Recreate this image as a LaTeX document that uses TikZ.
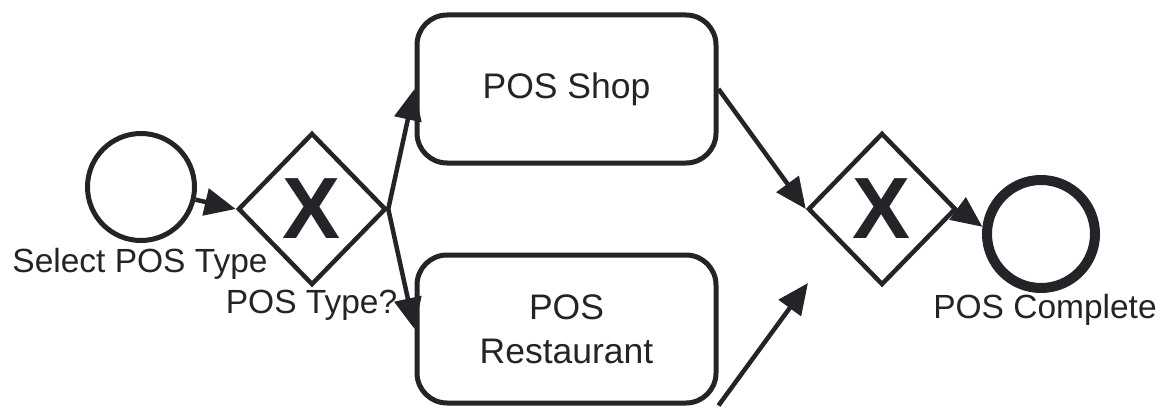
\documentclass[tikz,border=0pt]{standalone}
\usepackage{fontspec}
\setmainfont{Liberation Sans}
\usetikzlibrary{shapes.geometric,arrows.meta}
\definecolor{ink}{RGB}{35,36,39}
\begin{document}
\begin{tikzpicture}[x=1pt,y=-1pt,
  every node/.style={text=ink},
  event/.style={circle,draw=ink,line width=5pt,minimum size=107pt,inner sep=0pt},
  endevent/.style={circle,draw=ink,line width=10pt,minimum size=108pt,inner sep=0pt},
  gateway/.style={diamond,draw=ink,line width=4.5pt,minimum width=148pt,minimum height=152pt,inner sep=0pt,
    font=\fontsize{87}{87}\selectfont\bfseries},
  taskbox/.style={rectangle,rounded corners=30pt,draw=ink,line width=5pt,minimum width=299pt,minimum height=148pt,
    align=center,font=\fontsize{35.5}{44}\selectfont},
  lbl/.style={anchor=base,inner sep=0pt,font=\fontsize{33.5}{38}\selectfont},
  flow/.style={draw=ink,line width=4.5pt,-{Triangle[length=31pt,width=27pt]}}
]
\useasboundingbox (0,0) rectangle (1167,420);

% events and gateways
\node[event] (start) at (141,187) {};
\node[gateway] (g1) at (312,209) {X};
\node[taskbox] (shop) at (566.5,89) {POS Shop};
\node[taskbox] (rest) at (566.5,329) {POS\\Restaurant};
\node[gateway] (g2) at (882,209) {X};
\node[endevent] (finish) at (1041,234) {};
\coordinate (loose) at (808,283);

% labels
\node[lbl] (lstart) at (140,272) {Select POS Type};
\node[lbl] (lg1) at (311.5,313) {POS Type?};
\node[lbl] (lend) at (1045,318) {POS Complete};

% sequence flows
\draw[flow] (start) -- (g1.west);
\draw[flow] (g1.east) -- (shop.west);
\draw[flow] (g1.east) -- (rest.west);
\draw[flow] (shop.east) -- (g2.west);
\draw[flow] (rest.south east) -- (loose);
\draw[flow] (g2.east) -- (finish.173);
\end{tikzpicture}
\end{document}
